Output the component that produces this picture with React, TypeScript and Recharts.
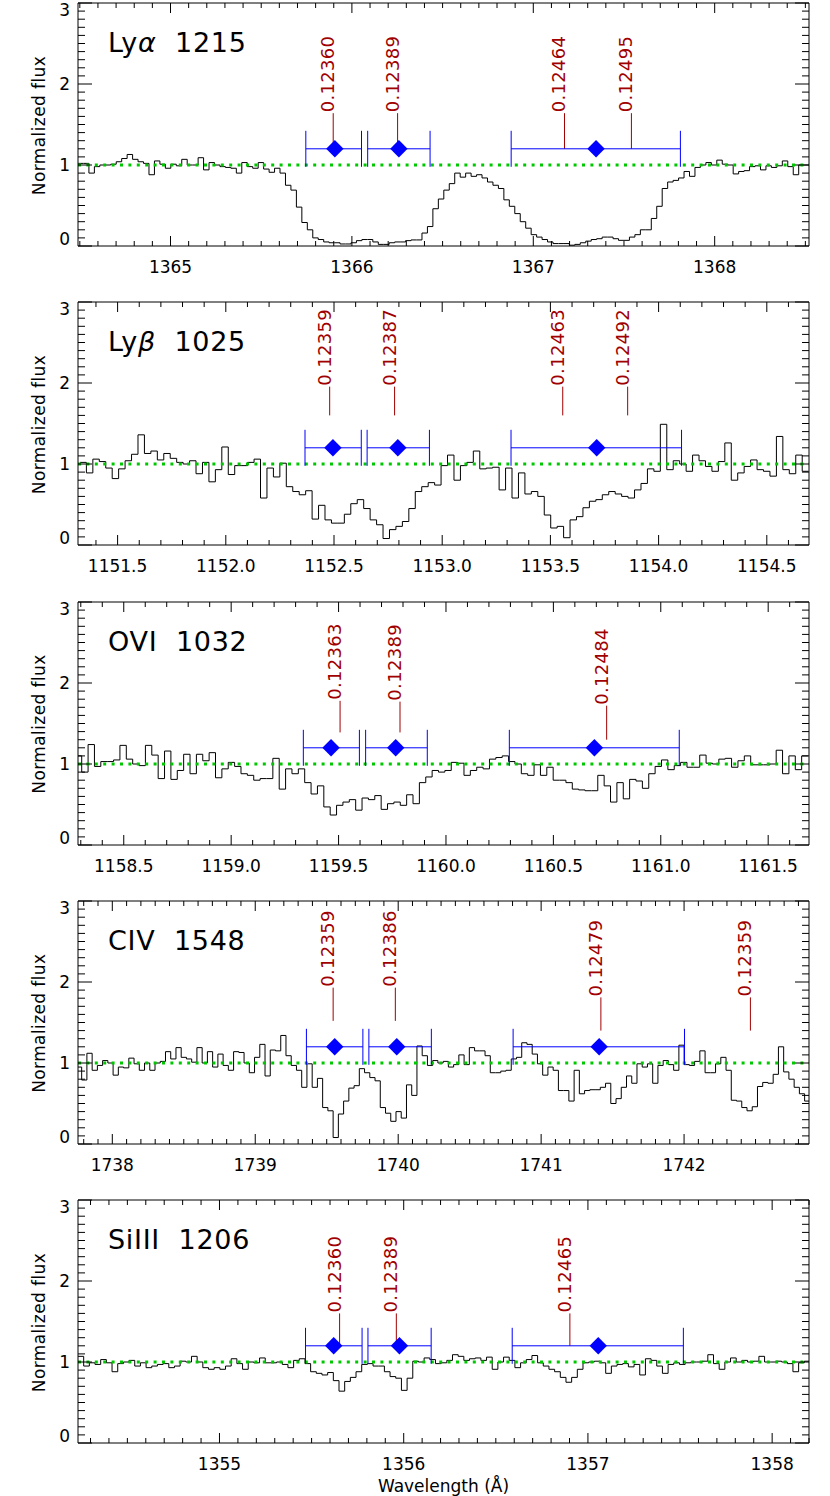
import React from 'react';
import { ComposedChart, Line, Scatter, XAxis, YAxis, ErrorBar, ReferenceLine } from 'recharts';

// ---------------- Panel 1: Ly-alpha 1215 ----------------
const LYA_DOMAIN: [number, number] = [1364.49, 1368.52];
const LYA_START = 1364.49;
const LYA_STEP = 0.0301;
const LYA_FLUX = [
  1.02, 1.02, 0.9, 0.98, 1.0, 1.0, 1.01, 1.04, 1.08, 1.13,
  1.07, 1.04, 1.02, 0.88, 1.05, 1.01, 0.96, 1.01, 0.99, 1.07,
  1.0, 1.0, 1.09, 0.94, 1.03, 1.0, 0.98, 0.97, 0.96, 0.9,
  1.03, 0.98, 0.96, 1.03, 0.95, 0.91, 0.96, 0.9, 0.75, 0.69,
  0.48, 0.29, 0.2, 0.1, 0.08, 0.05, 0.04, 0.04, 0.025, 0.025,
  0.04, 0.066, 0.08, 0.08, 0.05, 0.02, 0.02, 0.04, 0.05, 0.05,
  0.066, 0.075, 0.075, 0.16, 0.24, 0.46, 0.58, 0.69, 0.77, 0.9,
  0.85, 0.9, 0.86, 0.88, 0.84, 0.79, 0.75, 0.71, 0.57, 0.49,
  0.4, 0.3, 0.22, 0.14, 0.11, 0.08, 0.05, 0.03, 0.03, 0.03,
  0.01, 0.02, 0.04, 0.06, 0.08, 0.09, 0.11, 0.11, 0.09, 0.07,
  0.07, 0.11, 0.14, 0.2, 0.2, 0.34, 0.49, 0.71, 0.79, 0.81,
  0.84, 0.92, 0.86, 0.97, 1.0, 1.03, 1.0, 1.06, 1.01, 1.0,
  0.89, 0.92, 0.93, 0.98, 0.99, 0.94, 0.99, 0.97, 0.99, 1.05,
  0.98, 0.88, 1.0, 1.0, 1.0,
];
const LYA_COMP_W = [1365.906, 1366.259, 1367.346];
const LYA_COMP_LO = [1365.746, 1366.087, 1366.878];
const LYA_COMP_HI = [1366.053, 1366.431, 1367.811];
const LYA_Z_TEXT = ['0.12360', '0.12389', '0.12464', '0.12495'];
const LYA_Z_W = [1365.897, 1366.252, 1367.172, 1367.541];
const LYA_Z_Y0 = [1.2, 1.2, 1.2, 1.2];
const LYA_Z_Y1 = [1.64, 1.64, 1.64, 1.64];

// ---------------- Panel 2: Ly-beta 1025 ----------------
const LYB_DOMAIN: [number, number] = [1151.317, 1154.695];
const LYB_START = 1151.326;
const LYB_STEP = 0.0298;
const LYB_FLUX = [
  1.02, 0.89, 1.06, 1.03, 0.95, 0.82, 0.94, 1.04, 1.12, 1.36,
  1.13, 1.16, 1.05, 1.13, 1.07, 1.02, 1.0, 1.04, 0.88, 1.02,
  0.78, 0.93, 1.21, 0.87, 0.98, 0.98, 1.02, 1.06, 0.58, 0.95,
  0.84, 1.01, 0.72, 0.66, 0.62, 0.67, 0.32, 0.49, 0.31, 0.27,
  0.27, 0.38, 0.51, 0.56, 0.45, 0.31, 0.25, 0.08, 0.19, 0.23,
  0.29, 0.45,
  0.66, 0.72, 0.77, 0.74, 0.98, 1.11, 0.8, 0.98, 1.02, 1.16,
  0.94, 0.95, 0.96, 0.68, 0.95, 0.58, 0.89, 0.63, 0.66, 0.6,
  0.37, 0.21, 0.23, 0.09, 0.31, 0.35, 0.46, 0.54, 0.56, 0.62,
  0.66, 0.63, 0.6, 0.58, 0.68, 0.76, 0.94, 0.91, 1.49, 0.93,
  1.04, 1.0, 0.91, 1.11, 1.04, 0.97, 0.91, 1.03, 1.26, 0.8,
  0.89, 0.97, 1.05, 0.93, 0.91, 0.85, 1.34, 0.93, 0.88, 1.11,
  0.91,
];
const LYB_COMP_W = [1152.495, 1152.795, 1153.714];
const LYB_COMP_LO = [1152.366, 1152.653, 1153.318];
const LYB_COMP_HI = [1152.626, 1152.941, 1154.106];
const LYB_Z_TEXT = ['0.12359', '0.12387', '0.12463', '0.12492'];
const LYB_Z_W = [1152.48, 1152.78, 1153.557, 1153.857];
const LYB_Z_Y0 = [1.6, 1.6, 1.6, 1.6];
const LYB_Z_Y1 = [1.955, 1.955, 1.955, 1.955];

// ---------------- Panel 3: OVI 1032 ----------------
const OVI_DOMAIN: [number, number] = [1158.287, 1161.69];
const OVI_START = 1158.2746;
const OVI_STEP = 0.02966;
const OVI_FLUX = [
  1.1, 0.9, 1.24, 0.97, 1.03, 1.03, 1.05, 1.23, 1.06, 1.0,
  0.98, 1.23, 1.11, 0.82, 1.16, 0.81, 0.92, 1.12, 0.88, 1.12,
  1.04, 1.14, 0.83, 0.94, 1.02, 0.97, 0.88, 0.86, 0.8, 0.82,
  0.82, 1.07, 0.69, 0.94, 0.88, 0.94, 0.77, 0.63, 0.73, 0.47,
  0.37, 0.49, 0.53, 0.56, 0.43, 0.58, 0.56, 0.61, 0.44, 0.51,
  0.53, 0.49, 0.62, 0.51,
  0.77, 0.84, 0.92, 0.9, 0.92, 1.02, 1.01, 0.86, 0.92, 0.96,
  0.94, 1.06, 1.08, 1.1, 1.03, 1.0, 0.88, 0.86, 0.99, 0.86,
  0.96, 0.8, 0.8, 0.77, 0.69, 0.68, 0.67, 0.67, 0.86, 0.73,
  0.53, 0.77, 0.57, 0.81, 0.79, 0.7, 0.88, 0.97, 1.05, 0.93,
  0.98, 1.02, 0.96, 0.96, 1.11, 1.01, 1.0, 1.06, 1.07, 0.96,
  1.04, 1.1, 0.99, 0.99, 0.99, 1.0, 1.17, 0.88, 1.1, 0.93,
  1.1,
];
const OVI_COMP_W = [1159.465, 1159.766, 1160.691];
const OVI_COMP_LO = [1159.336, 1159.626, 1160.295];
const OVI_COMP_HI = [1159.597, 1159.913, 1161.086];
const OVI_Z_TEXT = ['0.12363', '0.12389', '0.12484'];
const OVI_Z_W = [1159.507, 1159.786, 1160.748];
const OVI_Z_Y0 = [1.39, 1.39, 1.3];
const OVI_Z_Y1 = [1.78, 1.77, 1.72];

// ---------------- Panel 4: CIV 1548 ----------------
const CIV_DOMAIN: [number, number] = [1737.76, 1742.874];
const CIV_START = 1737.749;
const CIV_STEP = 0.03665;
const CIV_FLUX = [
  0.95, 0.79, 1.12, 0.91, 0.97, 1.03, 1.0, 0.85, 0.95, 0.94,
  1.06, 0.99, 0.91, 1.0, 0.91, 1.0, 1.02, 1.14, 1.05, 1.19,
  1.07, 1.05, 1.01, 1.19, 1.0, 1.14, 0.95, 1.11, 0.97, 0.91,
  1.14, 1.13, 1.0, 0.88, 1.07, 1.23, 0.84, 1.16, 1.15, 1.34,
  1.09, 0.97, 0.91, 0.7, 0.99, 0.7, 0.81, 0.45, 0.41, 0.08,
  0.37, 0.53, 0.69, 0.72, 0.93, 0.88, 0.82, 0.78, 0.45, 0.38,
  0.28, 0.4, 0.32, 0.73, 0.6,
  1.21, 1.09, 0.97, 1.03, 1.0, 1.02, 0.95, 0.98, 1.1, 0.98,
  1.19, 1.15, 1.15, 1.09, 0.88, 0.88, 0.9, 0.91, 1.05, 1.07,
  1.25, 1.23, 1.11, 0.99, 0.85, 0.95, 0.91, 0.66, 0.66, 0.53,
  0.91, 0.62, 0.66, 0.67, 0.67, 0.7, 0.75, 0.5, 0.56, 0.7,
  0.84, 0.75, 0.99, 0.95, 0.99, 0.75, 0.97, 1.03, 0.98, 0.91,
  1.22, 0.98, 0.97, 1.02, 1.15, 0.88, 0.88, 0.99, 1.07, 0.91,
  0.54, 0.53, 0.45, 0.41, 0.46, 0.71, 0.76, 0.75, 0.86, 1.2,
  0.89, 0.8, 0.7, 0.62, 0.53,
];
const CIV_COMP_W = [1739.556, 1739.99, 1741.406];
const CIV_COMP_LO = [1739.358, 1739.795, 1740.804];
const CIV_COMP_HI = [1739.753, 1740.232, 1742.003];
const CIV_Z_TEXT = ['0.12359', '0.12386', '0.12479', '0.12359'];
const CIV_Z_W = [1739.545, 1739.98, 1741.418, 1742.464];
const CIV_Z_Y0 = [1.52, 1.52, 1.4, 1.4];
const CIV_Z_Y1 = [1.93, 1.93, 1.81, 1.81];

// ---------------- Panel 5: SiIII 1206 ----------------
const SI_DOMAIN: [number, number] = [1354.232, 1358.2];
const SI_START = 1354.232;
const SI_STEP = 0.0308;
const SI_FLUX = [
  1.07, 0.95, 0.99, 0.97, 1.03, 0.99, 0.88, 0.98, 1.0, 1.02,
  0.95, 0.99, 0.93, 0.95, 0.97, 0.98, 0.93, 0.95, 1.01, 1.0,
  1.07, 1.0, 0.93, 0.91, 0.93, 0.91, 0.95, 1.04, 0.98, 0.91,
  1.0, 0.99, 1.05, 0.99, 0.99, 1.0, 0.97, 0.93, 1.02, 1.04,
  0.98, 0.88, 0.86, 0.84, 0.87, 0.77, 0.64, 0.76, 0.81, 0.88,
  0.97, 0.98, 0.95, 0.95, 0.88, 0.82, 0.8, 0.65, 0.8, 1.01,
  1.0, 1.05, 1.03, 0.98, 0.99, 1.02, 1.09, 1.07, 1.02, 1.04,
  1.05, 1.02, 1.06, 0.91, 1.0, 1.06, 1.02, 0.93, 0.99, 1.03,
  1.08, 0.99, 0.95, 0.91, 0.88, 0.81, 0.75, 0.81, 0.91, 0.99,
  1.0, 1.01, 0.99, 0.86, 0.95, 0.97, 0.98, 0.94, 0.97, 0.84,
  1.04, 1.02, 0.95, 0.86, 0.97, 0.99, 0.97, 0.99, 1.0, 1.0,
  1.01, 1.09, 0.98, 0.91, 1.0, 1.05, 1.0, 1.02, 1.0, 1.01,
  1.07, 1.0, 1.0, 1.01, 1.0, 0.98, 0.88, 0.99, 1.01,
];
const SI_COMP_W = [1355.62, 1355.977, 1357.056];
const SI_COMP_LO = [1355.467, 1355.806, 1356.589];
const SI_COMP_HI = [1355.774, 1356.149, 1357.518];
const SI_Z_TEXT = ['0.12360', '0.12389', '0.12465'];
const SI_Z_W = [1355.652, 1355.96, 1356.902];
const SI_Z_Y0 = [1.2, 1.2, 1.2];
const SI_Z_Y1 = [1.6, 1.6, 1.6];

// shared values
const COMP_Y = 1.2;
const CONTINUUM = 1;
const Y_DOMAIN: [number, number] = [0, 3];
const Y_MAJOR = [0, 1, 2, 3];

// ---------------- layout / style ----------------
const W = 830;
const PLOT_L = 78;
const PLOT_R = 809;
const PLOT_H = 243;
const PAD_T = 10;
const PAD_B = 40;
const FONT = "'DejaVu Sans', Verdana, sans-serif";
const RED = '#a00000';
const BLUE = '#0000ff';
const GREEN = '#00c800';

type Panel = {
  key: string;
  top: number;
  title: React.ReactNode;
  domain: [number, number];
  start: number;
  step: number;
  flux: number[];
  major: number;
  decimals: number;
  compW: number[];
  compLo: number[];
  compHi: number[];
  zText: string[];
  zW: number[];
  zY0: number[];
  zY1: number[];
};

const PANELS: Panel[] = [
  {
    key: 'lya', top: 3,
    title: (<><tspan>Ly</tspan><tspan fontStyle="italic">α</tspan><tspan>{'  1215'}</tspan></>),
    domain: LYA_DOMAIN, start: LYA_START, step: LYA_STEP, flux: LYA_FLUX, major: 1, decimals: 0,
    compW: LYA_COMP_W, compLo: LYA_COMP_LO, compHi: LYA_COMP_HI,
    zText: LYA_Z_TEXT, zW: LYA_Z_W, zY0: LYA_Z_Y0, zY1: LYA_Z_Y1,
  },
  {
    key: 'lyb', top: 302,
    title: (<><tspan>Ly</tspan><tspan fontStyle="italic">β</tspan><tspan>{'  1025'}</tspan></>),
    domain: LYB_DOMAIN, start: LYB_START, step: LYB_STEP, flux: LYB_FLUX, major: 0.5, decimals: 1,
    compW: LYB_COMP_W, compLo: LYB_COMP_LO, compHi: LYB_COMP_HI,
    zText: LYB_Z_TEXT, zW: LYB_Z_W, zY0: LYB_Z_Y0, zY1: LYB_Z_Y1,
  },
  {
    key: 'ovi', top: 601.5,
    title: 'OVI  1032',
    domain: OVI_DOMAIN, start: OVI_START, step: OVI_STEP, flux: OVI_FLUX, major: 0.5, decimals: 1,
    compW: OVI_COMP_W, compLo: OVI_COMP_LO, compHi: OVI_COMP_HI,
    zText: OVI_Z_TEXT, zW: OVI_Z_W, zY0: OVI_Z_Y0, zY1: OVI_Z_Y1,
  },
  {
    key: 'civ', top: 900.7,
    title: 'CIV  1548',
    domain: CIV_DOMAIN, start: CIV_START, step: CIV_STEP, flux: CIV_FLUX, major: 1, decimals: 0,
    compW: CIV_COMP_W, compLo: CIV_COMP_LO, compHi: CIV_COMP_HI,
    zText: CIV_Z_TEXT, zW: CIV_Z_W, zY0: CIV_Z_Y0, zY1: CIV_Z_Y1,
  },
  {
    key: 'si', top: 1200,
    title: 'SiIII  1206',
    domain: SI_DOMAIN, start: SI_START, step: SI_STEP, flux: SI_FLUX, major: 1, decimals: 0,
    compW: SI_COMP_W, compLo: SI_COMP_LO, compHi: SI_COMP_HI,
    zText: SI_Z_TEXT, zW: SI_Z_W, zY0: SI_Z_Y0, zY1: SI_Z_Y1,
  },
];

function ticksBetween(lo: number, hi: number, step: number): number[] {
  const out: number[] = [];
  for (let k = Math.ceil(lo / step - 1e-9); k * step <= hi + 1e-9; k++) {
    out.push(Math.round(k * step * 1e6) / 1e6);
  }
  return out;
}

const isMultiple = (v: number, m: number) => Math.abs(v / m - Math.round(v / m)) < 1e-6;

const Diamond = (props: any) => {
  const { cx, cy } = props;
  if (cx == null || cy == null) return <g />;
  const r = 8.7;
  return (
    <polygon
      points={`${cx},${cy - r} ${cx + r},${cy} ${cx},${cy + r} ${cx - r},${cy}`}
      fill={BLUE}
    />
  );
};

const ZLabel = (props: any) => {
  const { cx, cy } = props;
  if (cx == null || cy == null) return <g />;
  const txt = (props.payload && props.payload.z) || props.z;
  return (
    <text
      transform={`translate(${cx + 1},${cy - 1}) rotate(-90)`}
      fontFamily={FONT}
      fontSize={18}
      letterSpacing={0.3}
      fill={RED}
      textAnchor="start"
    >
      {txt}
    </text>
  );
};

function PanelChart({ p }: { p: Panel }) {
  const spec = p.flux.map((f, i) => ({ w: p.start + i * p.step, f }));
  spec.push({ w: p.start + p.flux.length * p.step, f: p.flux[p.flux.length - 1] });
  const cont = [
    { w: p.domain[0], g: CONTINUUM },
    { w: p.domain[1], g: CONTINUUM },
  ];
  const comps = p.compW.map((w, i) => ({ w, y: COMP_Y, err: [w - p.compLo[i], p.compHi[i] - w] }));
  const zMarks = p.zW.map((w, i) => ({ w, y: p.zY1[i], z: p.zText[i] }));
  const xTicks = ticksBetween(p.domain[0], p.domain[1], 0.1);
  const yTicks = ticksBetween(Y_DOMAIN[0], Y_DOMAIN[1], 0.1);
  const H = PLOT_H + PAD_T + PAD_B;

  const xTickBottom = (t: any) => {
    const v = t.payload.value;
    const maj = isMultiple(v, p.major);
    return (
      <g>
        <line x1={t.x} x2={t.x} y1={t.y} y2={t.y - (maj ? 10 : 5)} stroke="#000" strokeWidth={1} />
        {maj && (
          <text x={t.x} y={t.y + 27} textAnchor="middle" fontFamily={FONT} fontSize={17} fill="#000">
            {v.toFixed(p.decimals)}
          </text>
        )}
      </g>
    );
  };
  const xTickTop = (t: any) => {
    const v = t.payload.value;
    const maj = isMultiple(v, p.major);
    return <line x1={t.x} x2={t.x} y1={t.y} y2={t.y + (maj ? 10 : 5)} stroke="#000" strokeWidth={1} />;
  };
  const yTickLeft = (t: any) => {
    const v = t.payload.value;
    const maj = isMultiple(v, 1);
    const shift = v < 0.01 ? -7 : v > 2.99 ? 7 : 0;
    return (
      <g>
        <line x1={t.x} x2={t.x + (maj ? 14 : 7)} y1={t.y} y2={t.y} stroke="#000" strokeWidth={1} />
        {maj && Y_MAJOR.indexOf(Math.round(v)) >= 0 && (
          <text x={t.x - 8} y={t.y + shift} dy="0.36em" textAnchor="end" fontFamily={FONT} fontSize={17} fill="#000">
            {String(Math.round(v))}
          </text>
        )}
      </g>
    );
  };
  const yTickRight = (t: any) => {
    const v = t.payload.value;
    const maj = isMultiple(v, 1);
    return <line x1={t.x - (maj ? 14 : 7)} x2={t.x} y1={t.y} y2={t.y} stroke="#000" strokeWidth={1} />;
  };

  return (
    <div style={{ position: 'absolute', left: 0, top: p.top - PAD_T, width: W, height: H }}>
      <ComposedChart width={W} height={H} margin={{ top: 0, right: 0, bottom: 0, left: 0 }}>
        <XAxis
          xAxisId="b" orientation="bottom" dataKey="w" type="number" domain={p.domain} allowDataOverflow
          ticks={xTicks} interval={0} tickSize={0} tickMargin={0} height={PAD_B}
          axisLine={{ stroke: '#000' }} tickLine={false} tick={xTickBottom}
        />
        <XAxis
          xAxisId="t" orientation="top" dataKey="w" type="number" domain={p.domain} allowDataOverflow
          ticks={xTicks} interval={0} tickSize={0} tickMargin={0} height={PAD_T}
          axisLine={{ stroke: '#000' }} tickLine={false} tick={xTickTop}
        />
        <YAxis
          yAxisId="l" orientation="left" type="number" domain={Y_DOMAIN} allowDataOverflow
          ticks={yTicks} interval={0} tickSize={0} tickMargin={0} width={PLOT_L}
          axisLine={{ stroke: '#000' }} tickLine={false} tick={yTickLeft}
        />
        <YAxis
          yAxisId="r" orientation="right" type="number" domain={Y_DOMAIN} allowDataOverflow
          ticks={yTicks} interval={0} tickSize={0} tickMargin={0} width={W - PLOT_R}
          axisLine={{ stroke: '#000' }} tickLine={false} tick={yTickRight}
        />
        <Line
          xAxisId="b" yAxisId="l" data={spec} dataKey="f" type="stepAfter"
          stroke="#000" strokeWidth={1} dot={false} activeDot={false} isAnimationActive={false}
        />
        <Line
          xAxisId="t" yAxisId="r" data={cont} dataKey="g" type="linear"
          stroke={GREEN} strokeWidth={3} strokeDasharray="3 5.4" dot={false} activeDot={false}
          isAnimationActive={false}
        />
        {p.zW.map((w, i) => (
          <ReferenceLine
            key={`z${i}`} xAxisId="b" yAxisId="l"
            segment={[{ x: w, y: p.zY0[i] }, { x: w, y: p.zY1[i] }]}
            stroke={RED} strokeWidth={1}
          />
        ))}
        <Scatter xAxisId="b" yAxisId="l" data={comps} dataKey="y" shape={Diamond} isAnimationActive={false}>
          <ErrorBar dataKey="err" direction="x" width={18} stroke={BLUE} strokeWidth={1} />
        </Scatter>
        <Scatter xAxisId="b" yAxisId="l" data={zMarks} dataKey="y" shape={ZLabel} isAnimationActive={false} />
      </ComposedChart>
    </div>
  );
}

export default function App() {
  return (
    <div style={{ position: 'absolute', left: 0, top: 0, width: W, height: 1496, background: '#fff', overflow: 'hidden' }}>
      {PANELS.map((p) => (
        <PanelChart key={p.key} p={p} />
      ))}
      <svg width={W} height={1496} style={{ position: 'absolute', left: 0, top: 0, pointerEvents: 'none' }}>
        {PANELS.map((p) => (
          <g key={p.key}>
            <text
              x={108} y={p.top + 49} fontFamily={FONT} fontSize={27} letterSpacing={0.7}
              fill="#000" xmlSpace="preserve" style={{ whiteSpace: 'pre' }}
            >
              {p.title}
            </text>
            <text
              transform={`translate(45,${p.top + PLOT_H / 2 + 1}) rotate(-90)`}
              textAnchor="middle" fontFamily={FONT} fontSize={17} letterSpacing={0.4} fill="#000"
            >
              Normalized flux
            </text>
          </g>
        ))}
        <text x={(PLOT_L + PLOT_R) / 2} y={1492} textAnchor="middle" fontFamily={FONT} fontSize={17} fill="#000">
          Wavelength (Å)
        </text>
      </svg>
    </div>
  );
}
